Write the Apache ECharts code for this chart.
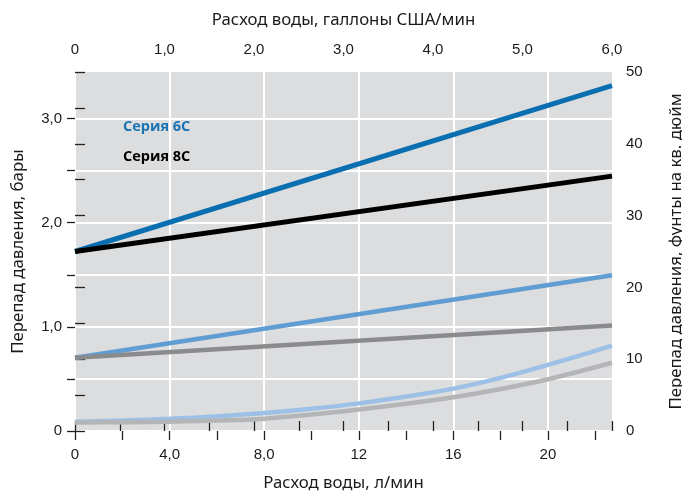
<!DOCTYPE html>
<html>
<head>
<meta charset="utf-8">
<script src="https://cdn.jsdelivr.net/npm/echarts@6/dist/echarts.min.js"></script>
<style>
html,body{margin:0;padding:0;background:#fff;}
#chart{width:682px;height:493px;}
</style>
</head>
<body>
<div id="chart"></div>
<script>
// ---- data (flow in l/min, pressure in psi) ----
const PSI_PER_BAR = 14.5038;
const LPM_MAX = 22.71;            // 6 US gal/min
const xStraight = [0, 22.71];
const s6cHigh = [25, 48.1];
const s8cHigh = [25, 35.5];
const s6cMid = [10.2, 21.7];
const s8cMid = [10.2, 14.7];
const xCurve = [0, 2, 4, 6, 8, 10, 12, 14, 16, 18, 20, 22.71];
const s6cLow = [1.3, 1.45, 1.7, 2.05, 2.5, 3.1, 3.85, 4.8, 5.9, 7.4, 9.2, 11.9];
const s8cLow = [1.2, 1.22, 1.3, 1.45, 1.72, 2.3, 3.0, 3.8, 4.7, 5.85, 7.2, 9.5];

const bottomMajor = [0, 4, 8, 12, 16, 20];
const bottomMinor = [2, 6, 10, 14, 18, 22];
const leftTicks = [0, 0.5, 1, 1.5, 2, 2.5, 3];
const leftLabels = [0, 1, 2, 3];
const topTicks = [0, 0.5, 1, 1.5, 2, 2.5, 3, 3.5, 4, 4.5, 5, 5.5, 6];
const topLabels = [0, 1, 2, 3, 4, 5, 6];
const rightTicks = [0, 5, 10, 15, 20, 25, 30, 35, 40, 45, 50];
const rightLabels = [0, 10, 20, 30, 40, 50];

function pairs(xs, ys) { return xs.map((x, i) => [x, ys[i]]); }
function fmt1(v) { return v === 0 ? '0' : (Number.isInteger(v) && v >= 10 ? String(v) : v.toFixed(1).replace('.', ',')); }

const tickFont = { fontFamily: 'Liberation Sans', fontSize: 15, color: '#1a1a1a' };
const nameFont = { fontFamily: 'Noto Sans', fontSize: 16.8, color: '#1a1a1a' };
const tickLine = { color: '#222', width: 1.3 };

const chart = echarts.init(document.getElementById('chart'), null, { renderer: 'canvas' });

function lineSeries(name, xs, ys, color, width, smooth) {
  return {
    name: name, type: 'line', xAxisIndex: 0, yAxisIndex: 1,
    data: pairs(xs, ys), showSymbol: false, smooth: smooth ? 0.4 : false,
    lineStyle: { color: color, width: width, cap: 'butt' },
    itemStyle: { color: color }, silent: true, animation: false
  };
}

chart.setOption({
  animation: false,
  grid: { left: 75, right: 70, top: 72, bottom: 62, show: true, backgroundColor: '#dcdddf', borderWidth: 0,
          containLabel: false, outerBoundsMode: 'none' },
  xAxis: [
    {
      type: 'value', position: 'bottom', min: 0, max: LPM_MAX, interval: 4,
      name: 'Расход воды, л/мин', nameLocation: 'middle', nameGap: 44, nameTextStyle: nameFont,
      axisLine: { show: false },
      axisTick: { show: true, length: 9, lineStyle: tickLine, customValues: bottomMajor },
      axisLabel: { margin: 16, ...tickFont, customValues: bottomMajor, formatter: v => fmt1(v) },
      splitLine: { show: true, lineStyle: { color: '#ffffff', width: 2 } }
    },
    {
      type: 'value', position: 'top', min: 0, max: 6, interval: 1,
      name: 'Расход воды, галлоны США/мин', nameLocation: 'middle', nameGap: 43, nameTextStyle: nameFont,
      axisLine: { show: false },
      axisTick: { show: true, length: 10, lineStyle: tickLine, customValues: topTicks },
      axisLabel: { margin: 15, ...tickFont, customValues: topLabels, formatter: v => fmt1(v) },
      splitLine: { show: false }
    },
    {
      type: 'value', position: 'bottom', min: 0, max: LPM_MAX, interval: 2,
      axisLine: { show: false },
      axisTick: { show: true, length: 9, lineStyle: tickLine, customValues: bottomMinor },
      axisLabel: { show: false },
      splitLine: { show: false }
    }
  ],
  yAxis: [
    {
      type: 'value', position: 'left', min: 0, max: 50 / PSI_PER_BAR, interval: 0.5, offset: 2,
      name: 'Перепад давления, бары', nameLocation: 'middle', nameGap: 46, nameRotate: 90, nameTextStyle: nameFont,
      axisLine: { show: false },
      axisTick: { show: true, length: 8, lineStyle: tickLine, customValues: leftTicks },
      axisLabel: { margin: 11, ...tickFont, customValues: leftLabels, formatter: v => fmt1(v) },
      splitLine: { show: true, lineStyle: { color: '#ffffff', width: 2 } }
    },
    {
      type: 'value', position: 'right', min: 0, max: 50, interval: 5,
      name: 'Перепад давления, фунты на кв. дюйм', nameLocation: 'middle', nameGap: 56, nameRotate: 90, nameTextStyle: nameFont,
      axisLine: { show: false },
      axisTick: { show: true, length: 10, lineStyle: tickLine, customValues: rightTicks },
      axisLabel: { margin: 14, ...tickFont, customValues: rightLabels, formatter: v => String(v) },
      splitLine: { show: false }
    }
  ],
  graphic: [
    { type: 'text', left: 123, top: 119, style: { text: 'Серия 6С', fill: '#1a74b4', fontFamily: 'Open Sans', fontWeight: 'bold', fontSize: 14.5 } },
    { type: 'text', left: 123, top: 149, style: { text: 'Серия 8С', fill: '#000000', fontFamily: 'Open Sans', fontWeight: 'bold', fontSize: 14.5 } }
  ],
  series: [
    lineSeries('Серия 6С', xStraight, s6cHigh, '#0a6fb0', 5, false),
    lineSeries('Серия 8С', xStraight, s8cHigh, '#000000', 5, false),
    lineSeries('6С средн.', xStraight, s6cMid, '#609dd3', 4.5, false),
    lineSeries('8С средн.', xStraight, s8cMid, '#8a8b8d', 4.5, false),
    lineSeries('6С низк.', xCurve, s6cLow, '#9dc1e6', 4.5, true),
    lineSeries('8С низк.', xCurve, s8cLow, '#b4b5b7', 4.5, true)
  ]
});
</script>
</body>
</html>
